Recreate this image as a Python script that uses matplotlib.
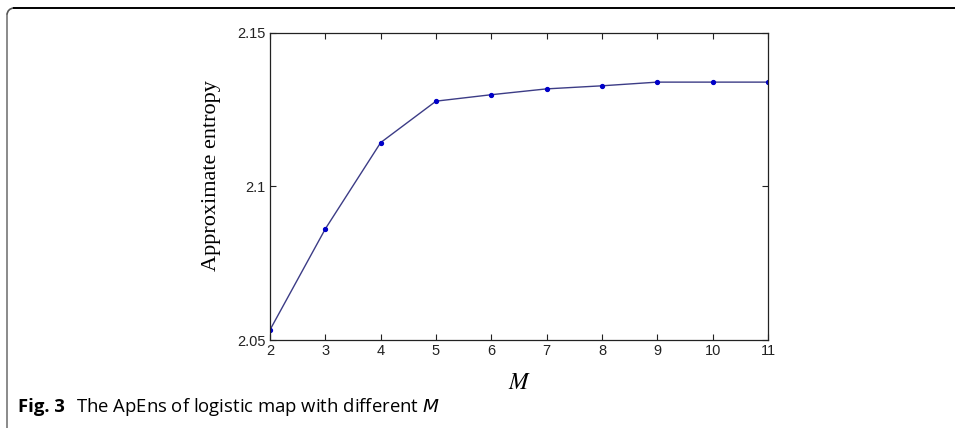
import matplotlib
matplotlib.use("Agg")
import matplotlib.pyplot as plt
from matplotlib.lines import Line2D
from matplotlib.patches import Arc

plt.rcParams["mathtext.fontset"] = "stix"

M = [2, 3, 4, 5, 6, 7, 8, 9, 10, 11]
apen = [2.0533, 2.0862, 2.1143, 2.1278, 2.1299, 2.1318, 2.1328, 2.1340, 2.1340, 2.1340]
yticks = [2.05, 2.1, 2.15]
ytick_labels = ["2.05", "2.1", "2.15"]

fig = plt.figure(figsize=(9.55, 4.28), dpi=100)
W, H = 955, 428
ax = fig.add_axes([270 / W, 1 - 340 / H, (768 - 270) / W, (340 - 33) / H])

ax.plot(M, apen, color="#3c3c86", lw=1.0, marker="o", markersize=2.8,
        markerfacecolor="#0000c8", markeredgecolor="#0000c8")
ax.set_xlim(2, 11)
ax.set_ylim(2.05, 2.15)
ax.set_xticks(M)
ax.set_xticklabels([str(m) for m in M], family="Liberation Sans", fontsize=10.5)
ax.set_yticks(yticks)
ax.set_yticklabels(ytick_labels, family="Liberation Sans", fontsize=10.5)
ax.tick_params(direction="in", top=True, right=True, length=4, width=0.8, colors="#222222", pad=3)
for s in ax.spines.values():
    s.set_linewidth(0.9)
    s.set_color("#222222")
ax.set_ylabel("Approximate entropy", family="Liberation Serif", fontsize=16)
ax.yaxis.set_label_coords(-0.098, 0.534)
ax.set_xlabel("$M$", fontsize=17)
ax.xaxis.set_label_coords(0.502, -0.099)

# frame around the figure
fig.add_artist(Line2D([14 / W, 1.0], [1 - 8 / H, 1 - 8 / H], color="black", lw=1.4))
fig.add_artist(Line2D([7 / W, 7 / W], [0, 1 - 15 / H], color="#777777", lw=1.2))
fig.add_artist(Arc((14 / W, 1 - 15 / H), 14 / W, 14 / H, theta1=90, theta2=180,
                   color="#555555", lw=1.2, transform=fig.transFigure))

fig.text(18 / W, 1 - 412 / H, "Fig. 3", family="Open Sans", fontweight="bold",
         fontsize=13.3, va="baseline", ha="left")
fig.text(76 / W, 1 - 412 / H, "The ApEns of logistic map with different $\\mathit{M}$",
         family="Open Sans", fontsize=13.3, va="baseline", ha="left",
         math_fontfamily="dejavusans")
fig.savefig("out.png", dpi=100)
